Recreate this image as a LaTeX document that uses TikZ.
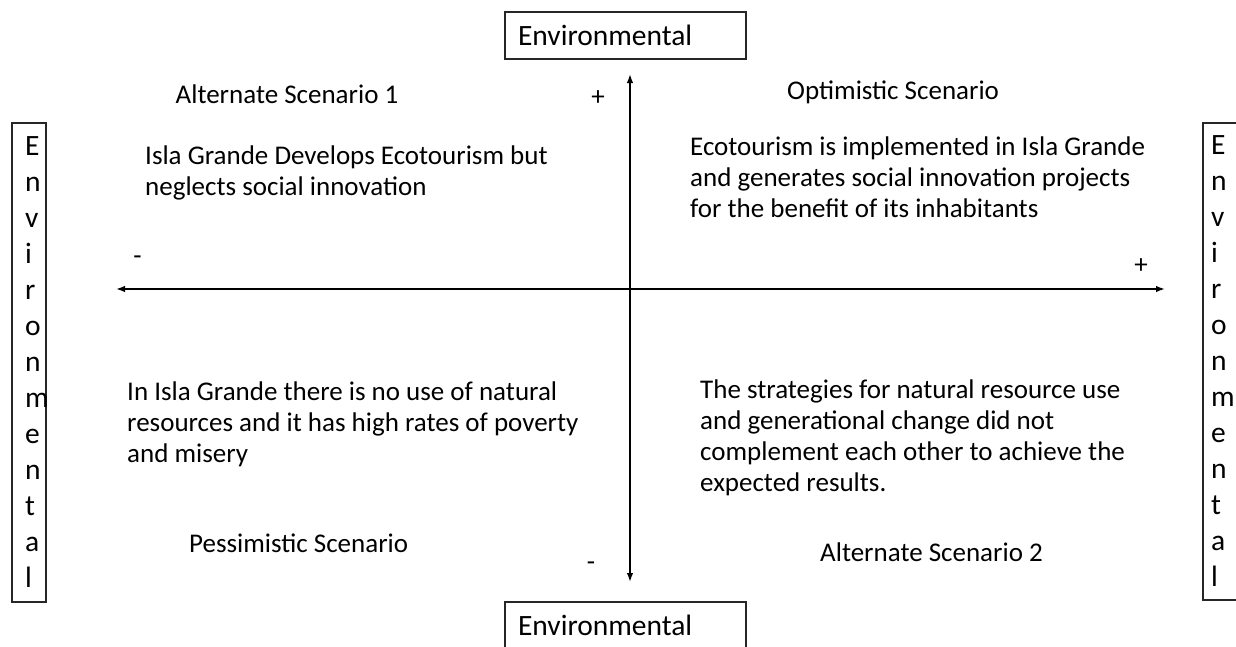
\documentclass[tikz,border=0pt]{standalone}
\usepackage{fontspec}
\setmainfont{Carlito}
\usepackage{tikz}
\usetikzlibrary{arrows.meta,positioning}

\begin{document}
\begin{tikzpicture}[x=1pt, y=-1pt, font=\fontsize{27}{31}\selectfont]
    % Setup the styles for the boxes and the texts
    \tikzset{axis box/.style={
        draw=black!85,
        line width=1.2pt,
        font=\fontsize{29.5}{36}\selectfont,
        inner sep=0pt},
      word box/.style={axis box,
        minimum width=241pt,
        minimum height=47pt,
        text width=215pt,
        align=left},
      letter box/.style={axis box,
        minimum width=34pt,
        align=left},
      scenario/.style={anchor=base west, inner sep=0pt},
      story/.style={anchor=north west, inner sep=0pt, align=left},
      sign/.style={anchor=base, inner sep=0pt}}
    \useasboundingbox (0,0) rectangle (1236,646);

    % Draw the axis boxes
    \node[word box] at (625.5, 35.5)  (EnvTop)    {Environmental};
    \node[word box] at (625.5, 625.5) (EnvBottom) {Environmental};
    \node[letter box, minimum height=479pt, text width=8pt]  at (29, 362.5)  (EnvLeft)
        {E\\n\\v\\i\\r\\o\\n\\m\\e\\n\\t\\a\\l};
    \node[letter box, minimum height=477pt, text width=18pt] at (1220, 361.5) (EnvRight)
        {E\\n\\v\\i\\r\\o\\n\\m\\e\\n\\t\\a\\l};

    % Draw the axes
    \coordinate (Top)    at (630, 74);
    \coordinate (Bottom) at (630, 582);
    \coordinate (Left)   at (116, 289);
    \coordinate (Right)  at (1165, 289);
    \draw[<->, >={Latex[length=9pt, width=6.5pt]}, line width=1.5pt]
        (Bottom) -- (Top);
    \draw[<->, >={Latex[length=9pt, width=6.5pt]}, line width=1.5pt]
        (Left) -- (Right);

    % Signs on the axes
    \node[sign] at (598, 105.5)  (PlusTop)     {+};
    \node[sign] at (137.5, 264)  (MinusLeft)   {-};
    \node[sign] at (1141, 273.5) (PlusRight)   {+};
    \node[sign] at (591, 570)    (MinusBottom) {-};

    % The four scenarios
    \node[scenario] at (175.5, 103) (AltOne)      {Alternate Scenario 1};
    \node[scenario] at (787, 99)    (Optimistic)  {Optimistic Scenario};
    \node[scenario] at (189, 552)   (Pessimistic) {Pessimistic Scenario};
    \node[scenario] at (820, 561)   (AltTwo)      {Alternate Scenario 2};

    \node[story] at (145, 146) (AltOneText)
        {Isla Grande Develops Ecotourism but\\neglects social innovation};
    \node[story] at (690, 137) (OptimisticText)
        {Ecotourism is implemented in Isla Grande\\and generates social innovation projects\\for the benefit of its inhabitants};
    \node[story] at (127, 382) (PessimisticText)
        {In Isla Grande there is no use of natural\\resources and it has high rates of poverty\\and misery};
    \node[story] at (700, 380) (AltTwoText)
        {The strategies for natural resource use\\and generational change did not\\complement each other to achieve the\\expected results.};
\end{tikzpicture}
\end{document}
